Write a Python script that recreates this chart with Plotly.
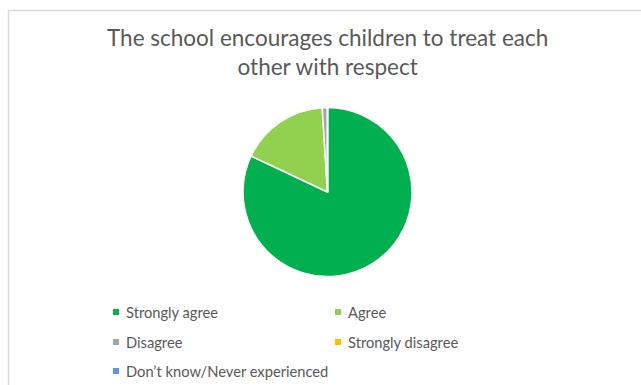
import plotly.graph_objects as go

# Survey responses (percent of respondents)
labels = ["Strongly agree", "Agree", "Disagree", "Strongly disagree", "Don\u2019t know/Never experienced"]
values = [82, 17, 1, 0, 0]
colors = ["#00B050", "#92D050", "#A5A5A5", "#FFC000", "#5B9BD5"]
title_text = "The school encourages children to treat each<br>other with respect"

W, H = 641, 385
TEXT_COLOR = "#595959"
FONT = "Lato"

fig = go.Figure(
    go.Pie(
        labels=labels,
        values=values,
        sort=False,
        direction="clockwise",
        rotation=0,
        marker=dict(colors=colors, line=dict(color="white", width=1.5)),
        textinfo="none",
        hoverinfo="label+percent",
        showlegend=False,
        domain=dict(x=[243 / W, 412 / W], y=[1 - 276.5 / H, 1 - 107.5 / H]),
    )
)

# Chart-area frame (runs off the right and bottom edges)
shapes = [
    dict(type="rect", xref="paper", yref="paper",
         x0=8.5 / W, x1=1.05, y0=-0.05, y1=1 - 10.5 / H,
         line=dict(color="#D9D9D9", width=1.5), fillcolor="rgba(0,0,0,0)", layer="below")
]

annotations = [
    dict(text=title_text, x=327 / W, y=1 - 52 / H, xref="paper", yref="paper",
         xanchor="center", yanchor="middle", showarrow=False, align="center",
         font=dict(family=FONT, size=22.5, color=TEXT_COLOR))
]

# Two-column legend built from the category list
col_x = [116, 338]
row_y = [312, 342, 371]
for i, (lab, col) in enumerate(zip(labels, colors)):
    cx = col_x[i % 2]
    cy = row_y[i // 2]
    shapes.append(dict(type="rect", xref="paper", yref="paper",
                       x0=(cx - 3) / W, x1=(cx + 3) / W,
                       y0=1 - (cy + 3) / H, y1=1 - (cy - 3) / H,
                       fillcolor=col, line=dict(width=0)))
    annotations.append(dict(text=lab, x=(cx + 8) / W, y=1 - cy / H,
                            xref="paper", yref="paper", xanchor="left", yanchor="middle",
                            showarrow=False,
                            font=dict(family=FONT, size=14.7, color=TEXT_COLOR)))

fig.update_layout(
    width=W, height=H,
    margin=dict(l=0, r=0, t=0, b=0),
    paper_bgcolor="white", plot_bgcolor="white",
    shapes=shapes, annotations=annotations,
)

fig.write_html("out.html")
